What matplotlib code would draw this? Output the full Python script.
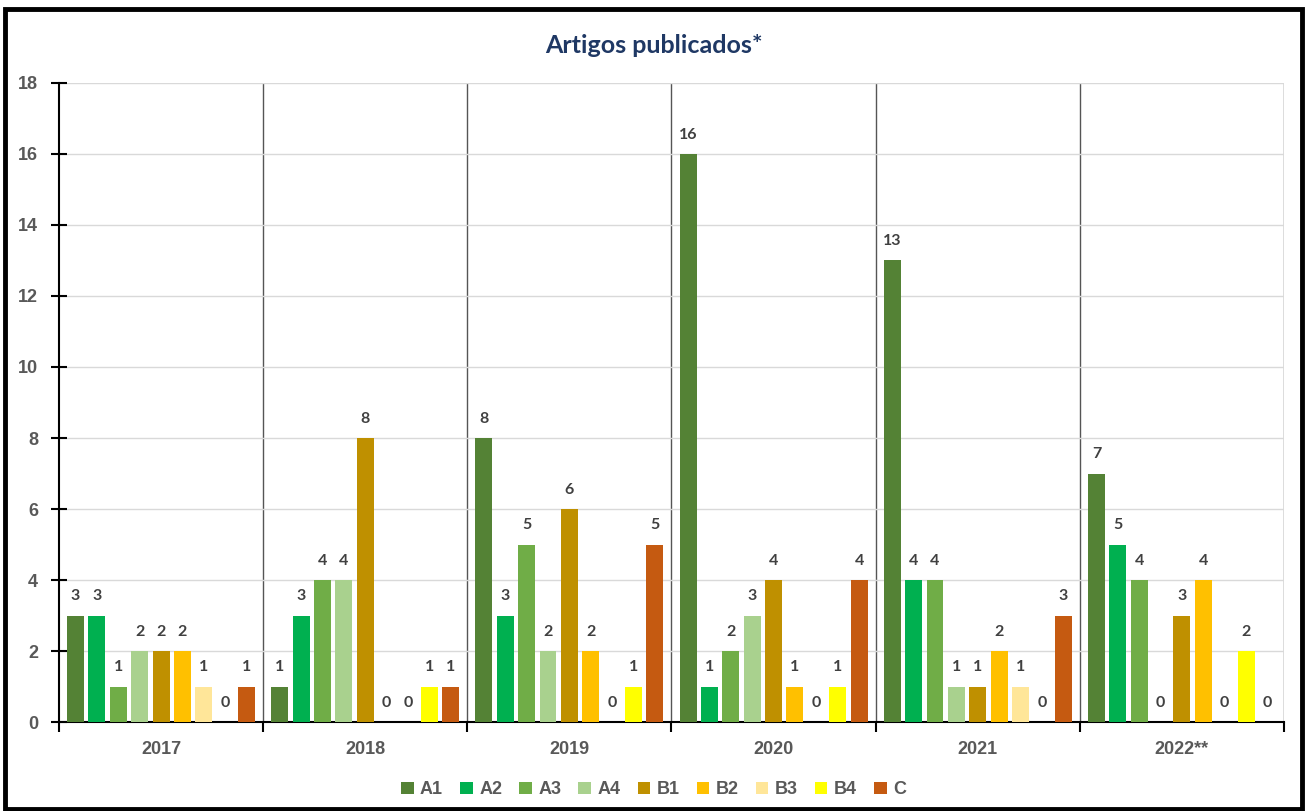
import matplotlib.pyplot as plt
import numpy as np
from matplotlib.patches import Rectangle

years = ['2017', '2018', '2019', '2020', '2021', '2022**']
strata = ['A1', 'A2', 'A3', 'A4', 'B1', 'B2', 'B3', 'B4', 'C']
colors = ['#548235', '#00B050', '#70AD47', '#A9D18E', '#BF9000',
          '#FFC000', '#FFE699', '#FFFF00', '#C55A11']

# articles per stratum, one list per year
counts = {
    '2017': [3, 3, 1, 2, 2, 2, 1, 0, 1],
    '2018': [1, 3, 4, 4, 8, 0, 0, 1, 1],
    '2019': [8, 3, 5, 2, 6, 2, 0, 1, 5],
    '2020': [16, 1, 2, 3, 4, 1, 0, 1, 4],
    '2021': [13, 4, 4, 1, 1, 2, 1, 0, 3],
    '2022**': [7, 5, 4, 0, 3, 4, 0, 2, 0],
}

fig = plt.figure(figsize=(13.07, 8.11), dpi=100)
ax = fig.add_axes([0.0451, 0.1097, 0.9373, 0.788])

x = np.arange(len(years))
pitch = 0.1047
width = 0.083
label_color = '#404040'
tick_font = dict(family='Liberation Sans', weight='bold', size=13)

for i, s in enumerate(strata):
    vals = [counts[y][i] for y in years]
    pos = x + (i - 4) * pitch
    ax.bar(pos, vals, width, color=colors[i], label=s, zorder=3)
    for p, v in zip(pos, vals):
        ax.text(p, v + 0.35, str(v), ha='center', va='bottom',
                fontsize=11.5, fontweight='bold', color=label_color,
                family='Lato', zorder=4)

ax.set_xlim(-0.5, len(years) - 0.5)
ax.set_ylim(0, 18)
ax.set_yticks(range(0, 19, 2))
ax.set_yticklabels([str(v) for v in range(0, 19, 2)], fontdict=tick_font,
                   color='#595959')
ax.grid(axis='y', color='#d9d9d9', linewidth=1, zorder=0)

# group separators
for b in np.arange(0.5, len(years) - 0.5 + 1e-9, 1):
    ax.axvline(b, color='#555555', linewidth=1, zorder=1)

ax.set_xticks(np.arange(-0.5, len(years), 1), minor=False)
ax.set_xticklabels([])
ax.set_xticks(x, minor=True)
ax.set_xticklabels(years, minor=True, fontdict=tick_font, color='#595959')
ax.tick_params(axis='x', which='major', length=7, width=1.5, color='black',
               direction='out')
ax.tick_params(axis='x', which='minor', length=0, pad=14)
ax.tick_params(axis='y', length=12, width=1.5, direction='inout', pad=9)

for side in ['top', 'right']:
    ax.spines[side].set_visible(False)
ax.spines['left'].set_linewidth(1.5)
ax.spines['bottom'].set_linewidth(1.5)

fig.text(0.5, 0.944, 'Artigos publicados*', ha='center', va='center',
         fontsize=18, fontweight='bold', color='#1F3864', family='Lato')

leg = fig.legend(loc='center', bbox_to_anchor=(0.5, 0.026), ncol=9,
                 frameon=False, handlelength=0.7, handleheight=0.7,
                 handletextpad=0.35, columnspacing=0.95,
                 prop={'family': 'Liberation Sans', 'weight': 'bold', 'size': 13})
for t in leg.get_texts():
    t.set_color('#595959')

fig.patches.append(Rectangle((0.004, 0.002), 0.992, 0.987, transform=fig.transFigure,
                             fill=False, edgecolor='black', linewidth=3.5))

fig.savefig('out.png', dpi=100)
